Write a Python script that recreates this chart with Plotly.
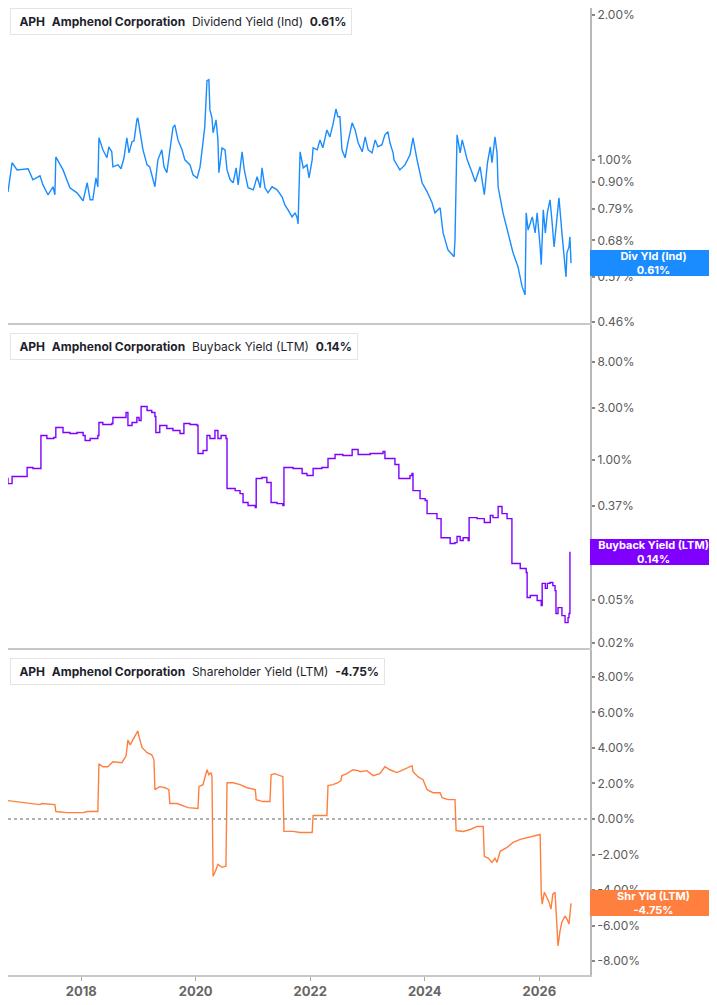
import math
import plotly.graph_objects as go
from plotly.subplots import make_subplots

# Dividend Yield (Ind), %
div_dates = [
    "2016-08-01", "2016-09-21", "2016-10-17", "2016-11-18", "2017-01-27", "2017-02-27", "2017-04-13", "2017-05-02",
    "2017-06-03", "2017-07-05", "2017-07-17", "2017-07-23", "2017-09-07", "2017-10-21", "2017-12-05", "2018-01-13",
    "2018-02-08", "2018-02-27", "2018-03-16", "2018-04-05", "2018-04-17", "2018-04-24", "2018-05-19", "2018-06-14",
    "2018-06-26", "2018-07-15", "2018-07-22", "2018-08-23", "2018-09-12", "2018-10-01", "2018-10-19", "2018-11-02",
    "2018-11-21", "2018-12-04", "2018-12-22", "2018-12-28", "2019-01-11", "2019-01-30", "2019-02-25", "2019-03-14",
    "2019-04-16", "2019-05-05", "2019-05-30", "2019-06-13", "2019-07-01", "2019-07-20", "2019-08-09", "2019-08-21",
    "2019-09-10", "2019-10-06", "2019-10-24", "2019-11-26", "2019-12-15", "2020-01-10", "2020-01-29", "2020-02-17",
    "2020-02-28", "2020-03-13", "2020-03-25", "2020-04-01", "2020-04-14", "2020-04-21", "2020-05-10", "2020-05-22",
    "2020-05-28", "2020-06-17", "2020-07-06", "2020-07-19", "2020-08-08", "2020-08-27", "2020-09-15", "2020-09-28",
    "2020-10-23", "2020-11-06", "2020-11-30", "2021-01-02", "2021-01-27", "2021-02-16", "2021-02-27", "2021-03-18",
    "2021-04-06", "2021-05-02", "2021-06-03", "2021-07-05", "2021-07-23", "2021-08-12", "2021-09-07", "2021-09-26",
    "2021-10-09", "2021-10-15", "2021-10-28", "2021-11-17", "2021-12-11", "2021-12-24", "2022-01-13", "2022-01-19",
    "2022-02-14", "2022-03-04", "2022-03-22", "2022-04-17", "2022-05-06", "2022-05-25", "2022-06-14", "2022-06-26",
    "2022-07-09", "2022-07-22", "2022-08-11", "2022-08-30", "2022-09-25", "2022-10-14", "2022-11-02", "2022-11-28",
    "2022-12-17", "2023-01-05", "2023-01-30", "2023-02-19", "2023-03-08", "2023-04-03", "2023-04-22", "2023-05-11",
    "2023-05-24", "2023-06-13", "2023-06-19", "2023-07-26", "2023-08-28", "2023-09-29", "2023-10-18", "2023-11-13",
    "2023-12-15", "2024-01-16", "2024-02-17", "2024-03-06", "2024-04-08", "2024-04-27", "2024-05-28", "2024-07-06",
    "2024-07-12", "2024-07-25", "2024-08-14", "2024-08-27", "2024-09-28", "2024-10-29", "2024-11-18", "2024-12-19",
    "2025-01-15", "2025-02-04", "2025-02-22", "2025-03-05", "2025-03-24", "2025-04-06", "2025-04-13", "2025-05-14",
    "2025-06-15", "2025-07-17", "2025-08-18", "2025-09-13", "2025-10-02", "2025-10-09", "2025-10-21", "2025-11-17",
    "2025-12-05", "2025-12-18", "2026-01-06", "2026-01-13", "2026-01-26", "2026-02-08", "2026-02-21", "2026-03-10",
    "2026-03-22", "2026-04-05", "2026-04-24", "2026-05-06", "2026-05-25", "2026-06-08", "2026-06-20", "2026-06-26",
    "2026-07-09", "2026-07-15", "2026-07-22",
]
div_vals = [
    0.953, 0.858, 0.986, 0.953, 0.958, 0.909, 0.926, 0.887,
    0.846, 0.879, 0.846, 1.014, 0.953, 0.875, 0.854, 0.822,
    0.896, 0.826, 0.826, 0.917, 0.879, 1.111, 1.049, 1.010,
    1.064, 1.039, 0.967, 0.976, 0.958, 1.010, 1.111, 1.034,
    1.090, 1.095, 1.211, 1.223, 1.144, 1.049, 0.976, 0.967,
    0.879, 1.000, 1.049, 0.967, 0.940, 1.034, 1.166, 1.182,
    1.100, 1.049, 1.000, 0.976, 0.931, 0.917, 0.967, 1.090,
    1.171, 1.460, 1.467, 1.270, 1.223, 1.138, 1.211, 1.100,
    0.940, 1.059, 1.049, 0.953, 0.909, 0.896, 0.962, 0.887,
    1.039, 0.953, 0.875, 0.866, 0.922, 0.875, 0.962, 0.875,
    0.854, 0.879, 0.866, 0.838, 0.806, 0.787, 0.761, 0.776,
    0.758, 0.736, 1.039, 0.962, 0.976, 0.917, 1.000, 1.059,
    1.049, 1.100, 1.059, 1.154, 1.116, 1.182, 1.276, 1.229,
    1.229, 1.049, 1.010, 1.090, 1.194, 1.154, 1.085, 1.039,
    1.116, 1.049, 1.034, 1.100, 1.064, 1.075, 1.127, 1.144,
    1.085, 1.034, 1.000, 0.953, 0.976, 1.024, 1.111, 1.000,
    0.896, 0.858, 0.814, 0.776, 0.795, 0.705, 0.650, 0.629,
    0.682, 1.127, 1.034, 1.100, 1.000, 0.940, 0.900, 0.967,
    0.846, 0.986, 1.064, 0.986, 1.116, 1.034, 0.879, 0.776,
    0.705, 0.641, 0.599, 0.545, 0.524, 0.776, 0.715, 0.761,
    0.705, 0.776, 0.659, 0.605, 0.787, 0.705, 0.776, 0.826,
    0.750, 0.659, 0.761, 0.834, 0.705, 0.629, 0.571, 0.641,
    0.659, 0.692, 0.610,
]

# Buyback Yield (LTM), % (step series)
bb_dates = [
    "2016-08-01", "2016-09-21", "2016-10-17", "2017-01-21", "2017-02-27", "2017-04-19", "2017-05-27", "2017-07-10",
    "2017-07-23", "2017-09-07", "2017-10-21", "2017-12-05", "2018-01-13", "2018-01-26", "2018-02-27", "2018-04-17",
    "2018-04-24", "2018-05-19", "2018-07-15", "2018-07-22", "2018-10-14", "2018-10-26", "2018-11-21", "2018-12-22",
    "2019-01-05", "2019-01-18", "2019-02-25", "2019-03-27", "2019-04-16", "2019-04-22", "2019-05-17", "2019-07-01",
    "2019-08-09", "2019-09-23", "2019-10-18", "2019-11-26", "2020-01-10", "2020-01-16", "2020-02-17", "2020-03-13",
    "2020-04-01", "2020-05-03", "2020-05-22", "2020-06-11", "2020-07-12", "2020-07-19", "2020-09-09", "2020-10-10",
    "2020-10-29", "2020-11-30", "2021-01-15", "2021-01-21", "2021-02-27", "2021-03-30", "2021-04-26", "2021-06-03",
    "2021-07-10", "2021-07-17", "2021-09-13", "2021-11-10", "2021-12-11", "2022-01-19", "2022-03-16", "2022-04-24",
    "2022-06-08", "2022-07-28", "2022-09-25", "2022-11-02", "2023-01-18", "2023-04-10", "2023-04-22", "2023-06-25",
    "2023-07-20", "2023-09-29", "2023-10-12", "2023-10-18", "2023-12-02", "2024-01-04", "2024-01-16", "2024-03-19",
    "2024-04-14", "2024-06-11", "2024-07-12", "2024-07-25", "2024-08-14", "2024-09-02", "2024-10-04", "2024-10-10",
    "2024-11-30", "2025-01-15", "2025-02-22", "2025-03-11", "2025-04-13", "2025-05-08", "2025-06-09", "2025-07-10",
    "2025-09-01", "2025-10-09", "2025-10-15", "2025-11-04", "2025-12-18", "2026-01-13", "2026-01-19", "2026-02-08",
    "2026-02-21", "2026-03-10", "2026-03-28", "2026-04-11", "2026-04-17", "2026-04-30", "2026-05-25", "2026-06-14",
    "2026-07-03", "2026-07-09", "2026-07-15",
]
bb_vals = [
    0.667, 0.599, 0.696, 0.843, 0.825, 1.668, 1.565, 1.598,
    1.978, 1.778, 1.741, 1.778, 1.668, 1.499, 1.565, 1.668,
    2.201, 2.109, 2.154, 2.448, 2.724, 2.064, 2.201, 2.448,
    2.297, 3.095, 2.842, 2.724, 2.501, 1.778, 2.064, 1.936,
    1.856, 1.741, 2.154, 2.109, 2.064, 1.137, 1.212, 1.668,
    1.565, 1.856, 1.565, 1.668, 1.565, 0.539, 0.516, 0.484,
    0.400, 0.375, 0.359, 0.667, 0.681, 0.612, 0.400, 0.391,
    0.375, 0.843, 0.825, 0.742, 0.711, 0.825, 0.843, 1.021,
    1.113, 1.089, 1.238, 1.113, 1.137, 1.186, 1.021, 0.899,
    0.667, 0.711, 0.742, 0.516, 0.435, 0.417, 0.316, 0.284,
    0.189, 0.167, 0.170, 0.194, 0.178, 0.189, 0.178, 0.290,
    0.284, 0.261, 0.303, 0.290, 0.367, 0.316, 0.284, 0.109,
    0.098, 0.090, 0.0528, 0.0551, 0.0496, 0.0445, 0.0713, 0.0641,
    0.0713, 0.0728, 0.0681, 0.0611, 0.0375, 0.0426, 0.0359, 0.0309,
    0.0344, 0.0375, 0.14,
]

# Shareholder Yield (LTM), %
shy_dates = [
    "2016-08-01", "2016-11-18", "2017-01-21", "2017-04-13", "2017-04-26", "2017-07-17", "2017-07-23", "2017-10-02",
    "2018-01-13", "2018-02-08", "2018-04-17", "2018-04-24", "2018-05-19", "2018-06-20", "2018-07-22", "2018-09-18",
    "2018-10-14", "2018-10-26", "2018-11-09", "2018-11-28", "2018-12-17", "2018-12-28", "2019-01-05", "2019-01-24",
    "2019-02-25", "2019-03-27", "2019-04-10", "2019-04-16", "2019-05-17", "2019-06-19", "2019-07-14", "2019-07-20",
    "2019-09-04", "2019-10-12", "2019-11-13", "2020-01-16", "2020-01-22", "2020-02-17", "2020-03-06", "2020-03-13",
    "2020-03-25", "2020-04-08", "2020-04-14", "2020-04-21", "2020-05-03", "2020-05-22", "2020-06-17", "2020-07-12",
    "2020-07-19", "2020-08-27", "2020-10-10", "2020-11-24", "2021-01-15", "2021-01-21", "2021-03-05", "2021-04-19",
    "2021-04-26", "2021-05-20", "2021-07-10", "2021-07-17", "2021-09-13", "2021-10-28", "2022-01-13", "2022-01-19",
    "2022-04-17", "2022-04-24", "2022-05-25", "2022-06-26", "2022-07-15", "2022-07-22", "2022-08-23", "2022-10-01",
    "2022-11-02", "2022-11-15", "2022-12-28", "2023-02-06", "2023-03-20", "2023-04-22", "2023-05-24", "2023-07-07",
    "2023-08-15", "2023-10-12", "2023-10-18", "2023-11-19", "2023-12-21", "2024-01-16", "2024-02-23", "2024-04-08",
    "2024-04-21", "2024-05-28", "2024-07-12", "2024-07-19", "2024-09-02", "2024-10-17", "2024-11-30", "2025-01-08",
    "2025-01-15", "2025-02-10", "2025-03-05", "2025-03-24", "2025-04-06", "2025-04-26", "2025-06-09", "2025-07-17",
    "2025-09-01", "2025-10-15", "2025-11-23", "2026-01-06", "2026-01-13", "2026-01-19", "2026-02-02", "2026-02-21",
    "2026-03-04", "2026-03-16", "2026-03-28", "2026-04-11", "2026-04-24", "2026-04-30", "2026-05-13", "2026-05-25",
    "2026-06-14", "2026-06-26", "2026-07-09", "2026-07-22",
]
shy_vals = [
    1.09, 0.98, 0.92, 0.81, 0.87, 0.81, 0.42, 0.36,
    0.36, 0.42, 0.42, 3.11, 2.94, 2.94, 3.22, 3.17,
    3.56, 4.45, 4.17, 4.45, 4.73, 4.96, 4.62, 4.01,
    3.73, 3.61, 3.33, 1.65, 1.82, 1.76, 1.65, 0.87,
    0.87, 0.76, 0.64, 0.59, 1.82, 1.93, 2.49, 2.77,
    2.49, 2.61, 2.38, -3.22, -3.00, -2.55, -2.72, -2.66,
    2.04, 2.04, 1.93, 1.76, 1.65, 1.09, 0.98, 0.98,
    2.49, 2.55, 2.38, -0.70, -0.70, -0.76, -0.76, 0.20,
    0.20, 1.88, 1.93, 2.04, 2.16, 2.44, 2.55, 2.77,
    2.72, 2.66, 2.72, 2.44, 2.55, 2.94, 2.77, 2.61,
    2.77, 3.00, 2.66, 2.38, 2.21, 1.65, 1.48, 1.48,
    1.20, 1.09, 1.09, -0.65, -0.70, -0.59, -0.42, -0.42,
    -2.10, -2.21, -2.44, -2.21, -2.44, -1.82, -1.60, -1.32,
    -1.15, -1.04, -0.98, -0.87, -4.12, -4.79, -4.12, -4.51,
    -4.68, -5.07, -4.23, -4.12, -5.80, -7.14, -6.30, -5.80,
    -5.46, -5.63, -5.91, -4.75,
]

div_ticks = [0.46, 0.57, 0.68, 0.79, 0.90, 1.00, 2.00]
bb_ticks = [0.02, 0.05, 0.14, 0.37, 1.00, 3.00, 8.00]
shy_ticks = [-8, -6, -4, -2, 0, 2, 4, 6, 8]
year_ticks = ["2018-01-01", "2020-01-01", "2022-01-01", "2024-01-01", "2026-01-01"]
year_labels = ["2018", "2020", "2022", "2024", "2026"]

BLUE = "#1a8cff"
PURPLE = "#8000ff"
ORANGE = "#ff7f3f"
FONT = "Inter"

# the page puts the figure 8px in from the top-left corner, so the
# figure is sized/offset to land the plot area where the reference has it
PW = 582.0   # plot width
PH = 967.0   # plot height


def py(page_y):
    # page pixel row -> paper y
    return 1 - (page_y - 8) / PH


def px(page_x):
    return (page_x - 8) / PW


fig = make_subplots(rows=3, cols=1, shared_xaxes=True, vertical_spacing=0.002)

fig.add_trace(go.Scatter(x=div_dates, y=div_vals, mode="lines",
                         line=dict(color=BLUE, width=1.4), hoverinfo="skip"), row=1, col=1)
fig.add_trace(go.Scatter(x=bb_dates, y=bb_vals, mode="lines",
                         line=dict(color=PURPLE, width=1.4, shape="hv"), hoverinfo="skip"), row=2, col=1)
fig.add_trace(go.Scatter(x=shy_dates, y=shy_vals, mode="lines",
                         line=dict(color=ORANGE, width=1.4), hoverinfo="skip"), row=3, col=1)

doms = [[py(323), 1.0], [py(648), py(325)], [0.0, py(650)]]

yax_common = dict(side="right", showgrid=False, zeroline=False, showline=True,
                  linecolor="#b8b8b8", linewidth=2, ticks="outside", ticklen=3,
                  tickwidth=2, tickcolor="#888", ticklabeloverflow="allow",
                  tickfont=dict(family=FONT, size=12, color="#5a5a5a"))
fig.update_layout(
    yaxis=dict(type="log", domain=doms[0], range=[math.log10(0.458), math.log10(2.068)],
               tickvals=div_ticks, ticktext=["%.2f%%" % v for v in div_ticks], **yax_common),
    yaxis2=dict(type="log", domain=doms[1], range=[math.log10(0.018), math.log10(17.6)],
                tickvals=bb_ticks, ticktext=["%.2f%%" % v for v in bb_ticks], **yax_common),
    yaxis3=dict(domain=doms[2], range=[-8.78, 9.51],
                tickvals=shy_ticks, ticktext=["%.2f%%" % v for v in shy_ticks], **yax_common),
)

xrange = ["2016-09-21", "2026-11-20"]
for i in (1, 2, 3):
    key = "xaxis" if i == 1 else "xaxis%d" % i
    fig.layout[key].update(range=xrange, showgrid=False, zeroline=False, showline=True,
                           linecolor="#c8c8c8", linewidth=1.5)
fig.layout.xaxis.update(showticklabels=False)
fig.layout.xaxis2.update(showticklabels=False)
fig.layout.xaxis3.update(tickvals=year_ticks, ticktext=["<b>%s</b>" % t for t in year_labels],
                         ticks="outside", ticklen=4, tickcolor="#aaa",
                         tickfont=dict(family=FONT, size=13, color="#666"))

# legend-style header boxes
NB = "\u00a0"
headers = [
    ("Dividend Yield (Ind)", "0.61%", BLUE, 8),
    ("Buyback Yield (LTM)", "0.14%", PURPLE, 333),
    ("Shareholder Yield (LTM)", "-4.75%", ORANGE, 658),
]
annotations = []
shapes = []
for metric, last, col, top in headers:
    txt = (NB + "<b>APH</b>" + NB * 2 + "<b>Amphenol Corporation</b>" + NB * 2 + metric
           + NB * 2 + "<b>" + last + "</b>")
    annotations.append(dict(xref="paper", yref="paper", x=px(10), y=py(top),
                            xanchor="left", yanchor="top", text=txt, showarrow=False,
                            font=dict(family=FONT, size=12, color="#1f1f2e"),
                            bgcolor="white", bordercolor="#e4e4e4", borderwidth=1, borderpad=5))
    shapes.append(dict(type="rect", xref="paper", yref="paper", x0=px(10), x1=px(13.5),
                       y0=py(top + 25), y1=py(top + 1),
                       fillcolor=col, line=dict(width=0), layer="above"))

# last-value boxes on the right
tags = [
    ("Div Yld (Ind)", "0.61%", BLUE, "y", math.log10(div_vals[-1])),
    ("Buyback Yield (LTM)", "0.14%", PURPLE, "y2", math.log10(bb_vals[-1])),
    ("Shr Yld (LTM)", "-4.75%", ORANGE, "y3", shy_vals[-1]),
]
for name, last, col, yref, yv in tags:
    annotations.append(dict(xref="paper", yref=yref, x=1, y=yv, xanchor="left", yanchor="middle",
                            text="<b>%s</b><br><b>%s</b>" % (name, last), showarrow=False,
                            font=dict(family=FONT, size=11, color="white"),
                            bgcolor=col, width=125, height=24, borderpad=1, borderwidth=0))

shapes.append(dict(type="line", xref="paper", yref="y3", x0=0, x1=1, y0=0, y1=0,
                   line=dict(color="#999", width=1.5, dash="dot")))

fig.update_layout(
    width=709, height=997,
    margin=dict(l=0, r=127, t=0, b=30),
    paper_bgcolor="white", plot_bgcolor="white",
    showlegend=False,
    font=dict(family=FONT),
    annotations=annotations,
    shapes=shapes,
)

fig.write_html("out.html")
